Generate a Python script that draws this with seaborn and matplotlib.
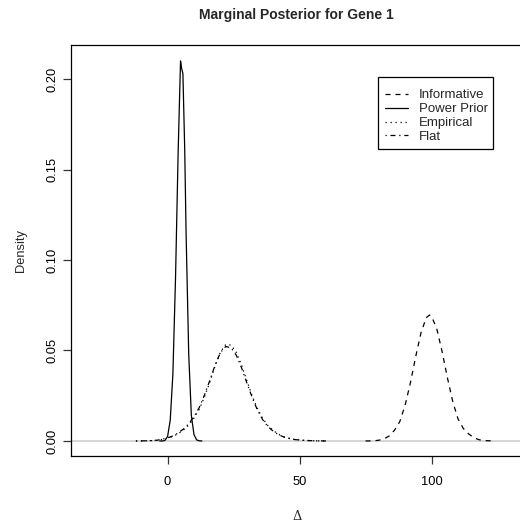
import matplotlib
matplotlib.use("Agg")
import matplotlib.pyplot as plt
from matplotlib.patches import Rectangle
import seaborn as sns
import pandas as pd

# ---- data ----
power_x = [-3, -2, -1, 0, 1, 2, 3, 4, 4.9, 5.3, 5.8, 6.5, 7, 8, 9, 10, 11, 12, 13]
power_y = [0.0000, 0.0000, 0.0003, 0.0025, 0.0115, 0.037, 0.090, 0.160, 0.210, 0.206,
           0.203, 0.160, 0.115, 0.048, 0.014, 0.0035, 0.0006, 0.0001, 0.0000]

emp_x = [-12, -8, -4, 0, 2, 4, 6, 8, 10, 12, 14, 16, 18, 20, 22, 24, 26, 28, 30, 32,
         34, 36, 38, 40, 42, 44, 46, 48, 52, 56, 60]
emp_y = [0.0000, 0.0001, 0.0003, 0.0015, 0.0025, 0.0040, 0.0060, 0.0088, 0.0127, 0.0175,
         0.0245, 0.0325, 0.0415, 0.0490, 0.0533, 0.0530, 0.0490, 0.0420, 0.0335, 0.0250,
         0.0180, 0.0125, 0.0085, 0.0058, 0.0037, 0.0024, 0.0015, 0.0009, 0.0003, 0.0001, 0.0000]

flat_x = [-12, -8, -4, 0, 2, 4, 6, 8, 10, 12, 14, 16, 18, 20, 22, 24, 26, 28, 30, 32,
          34, 36, 38, 40, 42, 44, 46, 48, 52, 56, 60]
flat_y = [0.0000, 0.0001, 0.0004, 0.0017, 0.0028, 0.0044, 0.0066, 0.0095, 0.0135, 0.0185,
          0.0255, 0.0335, 0.0420, 0.0488, 0.0522, 0.0515, 0.0475, 0.0405, 0.0322, 0.0242,
          0.0172, 0.0118, 0.0080, 0.0054, 0.0035, 0.0022, 0.0014, 0.0008, 0.0003, 0.0001, 0.0000]

inf_x = [75, 78, 80, 82, 84, 86, 88, 90, 92, 94, 96, 98, 99.2, 100, 102, 104, 106, 108,
         110, 112, 114, 116, 118, 120, 124]
inf_y = [0.0000, 0.0001, 0.0004, 0.0012, 0.0028, 0.0060, 0.0108, 0.0198, 0.0322, 0.0466,
         0.0598, 0.0681, 0.0696, 0.0689, 0.0619, 0.0494, 0.0350, 0.0220, 0.0123, 0.0070,
         0.0040, 0.0018, 0.0007, 0.0002, 0.0000]

series_names = ["Informative", "Power Prior", "Empirical", "Flat"]
x_ticks = [0, 50, 100]
y_ticks = [0.00, 0.05, 0.10, 0.15, 0.20]

frames = []
for name, xs, ys in [("Informative", inf_x, inf_y), ("Power Prior", power_x, power_y),
                     ("Empirical", emp_x, emp_y), ("Flat", flat_x, flat_y)]:
    frames.append(pd.DataFrame({"delta": xs, "density": ys, "prior": name}))
df = pd.concat(frames, ignore_index=True)

sns.set_style("white")
plt.rcParams["font.family"] = ["Liberation Sans", "DejaVu Sans"]

W, H = 520, 523
fig = plt.figure(figsize=(W / 100, H / 100), dpi=100)
ax = fig.add_axes([71 / W, 1 - 456 / H, 1.005 - 71 / W, (456 - 45) / H])

styles = {"Informative": (0, (4, 4)), "Power Prior": "-", "Empirical": (0, (1, 3)),
          "Flat": (0, (1, 3, 4, 3))}

ax.axhline(0, color="#cfcfcf", lw=1.2, zorder=0)
for name in series_names:
    sub = df[df["prior"] == name]
    sns.lineplot(data=sub, x="delta", y="density", ax=ax, color="black",
                 lw=0.9, estimator=None, sort=False, label=name)
    ax.lines[-1].set_linestyle(styles[name])

ax.set_xlim(-36.6, 134.5)
ax.set_ylim(-0.0083, 0.2188)
ax.set_xticks(x_ticks)
ax.set_xticklabels([str(v) for v in x_ticks])
ax.set_yticks(y_ticks)
ax.set_yticklabels([f"{v:.2f}" for v in y_ticks], rotation=90, va="center")
ax.tick_params(axis="both", which="both", direction="out", length=5.8, width=0.9,
               color="#333333", labelsize=9.3, colors="black", bottom=True, left=True)
ax.tick_params(axis="x", pad=8.5)
ax.tick_params(axis="y", pad=3.2)

for side in ["left", "bottom", "top"]:
    ax.spines[side].set_visible(True)
    ax.spines[side].set_color("black")
    ax.spines[side].set_linewidth(0.9)
ax.spines["right"].set_visible(False)

ax.set_xlabel("Δ", fontsize=9.3, family=["DejaVu Serif"], labelpad=16)
ax.set_ylabel("Density", fontsize=9.3, labelpad=14)
ax.set_title("Marginal Posterior for Gene 1", fontsize=10, fontweight="bold", pad=18.5)

# legend box drawn as a rectangle, entries placed inside it
fig.patches.append(Rectangle((378 / W, 1 - 149 / H), (493 - 378) / W, (149 - 77) / H,
                             transform=fig.transFigure, fill=False, edgecolor="black",
                             lw=0.9, zorder=5))
leg = ax.legend(loc="upper left", bbox_to_anchor=(378 / W, 1 - 82 / H),
                bbox_transform=fig.transFigure, frameon=False,
                fontsize=9.5, handlelength=1.75, handletextpad=0.8,
                labelspacing=0.12, borderpad=0.55, borderaxespad=0)
for h, name in zip(leg.get_lines(), series_names):
    h.set_linestyle(styles[name])
    h.set_linewidth(0.9)

fig.savefig("out.png", dpi=100)
